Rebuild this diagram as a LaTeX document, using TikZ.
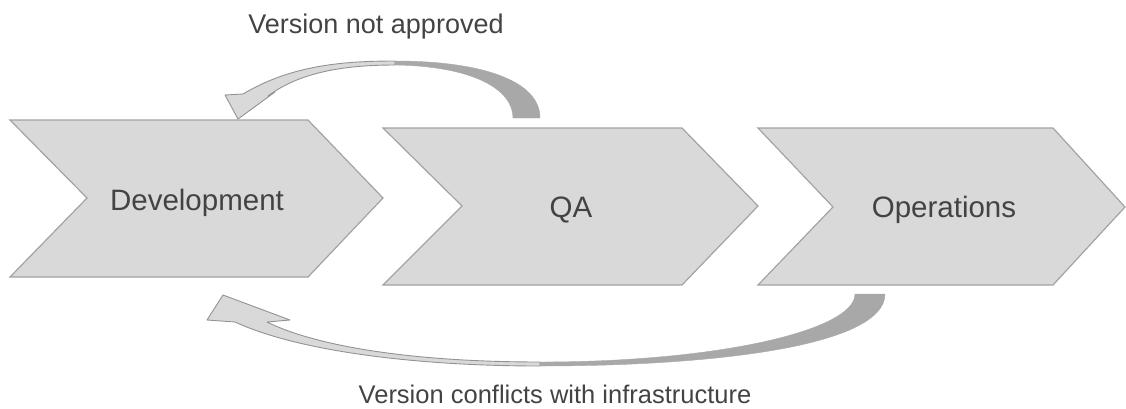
\documentclass[tikz,border=0pt]{standalone}
\usepackage{fontspec}
\setmainfont{Liberation Sans}
\usepackage{xcolor}
\usetikzlibrary{positioning}

\definecolor{stagefill}{HTML}{D9D9D9}
\definecolor{stageline}{HTML}{A3A3A3}
\definecolor{loopdark}{HTML}{A8A8A8}
\definecolor{labelgray}{HTML}{434343}

\tikzset{
    stage/.style={fill=stagefill, draw=stageline, line width=1.2pt},
    stagename/.style={anchor=base, inner sep=0pt, text=labelgray,
        font=\fontsize{29.5}{35}\selectfont},
    loopface/.style={fill=stagefill, draw=stageline!90!black, line width=0.9pt, line join=round},
    loopback/.style={fill=loopdark, draw=loopdark, line width=0.4pt},
    looplabel/.style={anchor=base, inner sep=0pt, text=labelgray}
}

\begin{document}
\begin{tikzpicture}[x=1pt, y=-1pt]
    \useasboundingbox (0,0) rectangle (1126,408);

    % the three stages
    \draw[stage] (10,120) -- (308,120) -- (383,198) -- (308,277) -- (10,277) -- (87,198) -- cycle;
    \draw[stage] (383,128) -- (682,128) -- (758,206) -- (682,285) -- (383,285) -- (462,206) -- cycle;
    \draw[stage] (758,128) -- (1053,128) -- (1125,207) -- (1053,285) -- (758,285) -- (833,207) -- cycle;

    \node[stagename] (dev) at (197,210) {Development};
    \node[stagename] (qa) at (571,217) {QA};
    \node[stagename] (ops) at (944,217) {Operations};

    % QA back to Development
    \fill[loopback] (395,61) .. controls (480,61) and (540,80) .. (540,118)
        -- (513,118) .. controls (513,88) and (470,66) .. (395,65) -- cycle;
    \draw[loopface] (395,61) .. controls (340,61) and (290,66) .. (243,94)
        -- (225,95) -- (238,119) -- (275,92) -- (268,96)
        .. controls (300,72) and (345,65) .. (395,65) -- cycle;

    % Operations back to Development
    \fill[loopback] (540,366) .. controls (720,366) and (885,345) .. (885,294)
        -- (855,294) .. controls (855,330) and (720,362) .. (540,362) -- cycle;
    \draw[loopface] (540,366) .. controls (420,366) and (300,352) .. (235,322)
        -- (207,320) -- (223,295) -- (290,320) -- (267,322)
        .. controls (320,348) and (420,362) .. (540,362) -- cycle;

    \node[looplabel, font=\fontsize{27}{32}\selectfont] (notapproved) at (376,33) {Version not approved};
    \node[looplabel, font=\fontsize{25.5}{30}\selectfont] (conflicts) at (555,403) {Version conflicts with infrastructure};
\end{tikzpicture}
\end{document}
